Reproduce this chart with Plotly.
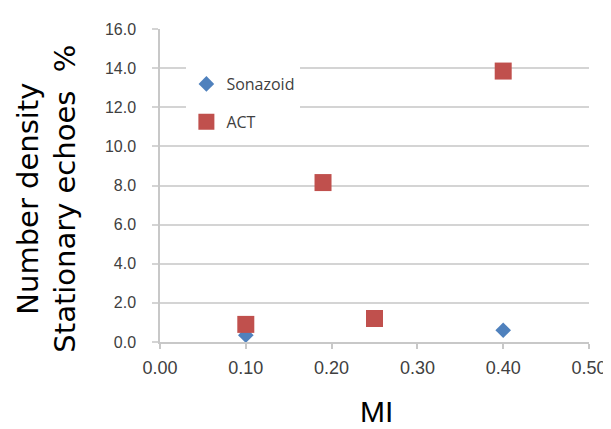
import plotly.graph_objects as go

# Data
sonazoid_mi = [0.10, 0.40]
sonazoid_val = [0.35, 0.6]
act_mi = [0.10, 0.19, 0.25, 0.40]
act_val = [0.9, 8.15, 1.2, 13.85]

y_ticks = [0, 2, 4, 6, 8, 10, 12, 14, 16]
x_ticks = [0.0, 0.1, 0.2, 0.3, 0.4, 0.5]

grid_col = "#d4d4d4"

fig = go.Figure()
fig.add_trace(go.Scatter(
    x=sonazoid_mi, y=sonazoid_val, mode="markers", name="Sonazoid",
    legendgroup="s",
    marker=dict(symbol="diamond", size=12, color="#4F81BD", line=dict(width=0)),
))
fig.add_trace(go.Scatter(
    x=act_mi, y=act_val, mode="markers", name="ACT",
    legendgroup="a",
    marker=dict(symbol="square", size=17, color="#C0504D", line=dict(width=0)),
))

fig.update_layout(
    width=611, height=429,
    margin=dict(l=152, r=20, t=21, b=95),
    plot_bgcolor="white", paper_bgcolor="white",
    showlegend=True,
    legend=dict(
        x=(179 - 152) / 439, y=(334 - 59) / 313, xanchor="left", yanchor="top",
        bgcolor="white", borderwidth=0,
        font=dict(family="Open Sans", size=16, color="#404040"),
        tracegroupgap=14, itemwidth=30,
    ),
    xaxis=dict(
        range=[0, 0.5], tickvals=x_ticks, tickformat=".2f",
        showgrid=False, zeroline=False,
        showline=True, linecolor="#c8c8c8", linewidth=1.5,
        ticks="outside", ticklen=5, tickcolor="#c8c8c8", tickwidth=1.5,
        tickfont=dict(family="Liberation Sans", size=18, color="#404040"),
        ticklabelstandoff=4,
    ),
    yaxis=dict(
        range=[0, 16], tickvals=y_ticks, tickformat=".1f",
        showgrid=True, gridcolor=grid_col, gridwidth=1.5, zeroline=False,
        showline=True, linecolor="#c8c8c8", linewidth=1.5,
        ticks="outside", ticklen=6, tickcolor=grid_col, tickwidth=1.5,
        tickfont=dict(family="Liberation Sans", size=16, color="#404040"),
        ticklabelstandoff=13,
    ),
    annotations=[
        dict(
            text="Number density<br>Stationary echoes\u00a0\u00a0%",
            textangle=-90, x=(36 - 152) / 439, y=(334 - 191) / 313,
            xref="paper", yref="paper", xanchor="center", yanchor="middle",
            showarrow=False,
            font=dict(family="DejaVu Sans", size=29, color="black"),
        ),
        dict(
            text="MI", x=(374 - 152) / 439, y=(334 - 403) / 313,
            xref="paper", yref="paper", xanchor="center", yanchor="middle",
            showarrow=False,
            font=dict(family="Liberation Sans", size=30, color="black"),
        ),
    ],
)

fig.write_html("out.html")
